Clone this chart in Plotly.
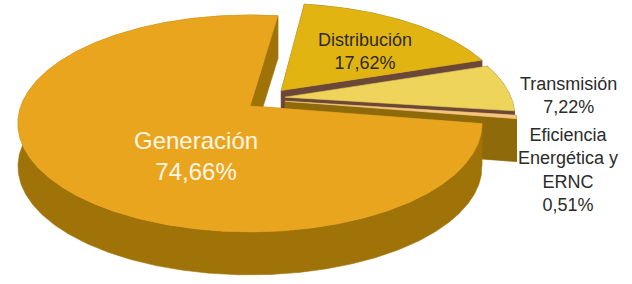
import numpy as np
import plotly.graph_objects as go

# ---------------- data ----------------
categories = ["Generación", "Distribución", "Transmisión", "Eficiencia Energética y ERNC"]
values = [74.66, 17.62, 7.22, 0.51]
label_names = ["Generación", "Distribución", "Transmisión", "Eficiencia<br>Energética y<br>ERNC"]

# ---------------- style ----------------
top_colors = ["#EAA51F", "#E2B412", "#EED45A", "#F6C57F"]
side_colors = ["#A07308", "#6A4736", "#6A4736", "#8E6A0B"]
pulls = [(0.0, 0.0), (0.14, 0.15), (0.155, 0.085), (0.155, 0.045)]   # explode offsets (disk units)
angular_order = [0, 3, 2, 1]      # counter-clockwise order of slices
draw_order = [1, 2, 3, 0]         # far to near
START = 81.9                      # start angle (deg) of first slice
CX, CY, RX, RY, K, DEPTH = 250, 106, 229, 105.6, 0.161, 43

label_pos = [(196, 156, 24, "#FFF6E6"), (365, 51, 18, "#2B2B2B"),
             (568, 95, 18, "#2B2B2B"), (568, 170, 18, "#2B2B2B")]


def proj(u, v):
    w = 1 + K * v
    return CX + RX * u / w, CY - RY * v / w


total = sum(values)
angles = {}
a = START
for i in angular_order:
    span = values[i] / total * 360.0
    angles[i] = (a, a + span)
    a += span

fig = go.Figure()


def poly(xs, ys, color):
    xs = list(xs) + [xs[0]]
    ys = list(ys) + [ys[0]]
    fig.add_trace(go.Scatter(x=xs, y=ys, mode="lines", fill="toself",
                             fillcolor=color, line=dict(color=color, width=0.6),
                             hoverinfo="skip", showlegend=False))


for i in draw_order:
    a0, a1 = angles[i]
    n = max(6, int((a1 - a0) * 2))
    th = np.radians(np.linspace(a0, a1, n))
    ou, ov = pulls[i]
    ru = ou + np.cos(th)
    rv = ov + np.sin(th)
    rx, ry = proj(ru, rv)
    cx0, cy0 = proj(ou, ov)
    side = side_colors[i]
    # outer wall
    poly(np.concatenate([rx, rx[::-1]]), np.concatenate([ry, ry[::-1] + DEPTH]), side)
    # radial faces
    for j in (0, -1):
        poly([cx0, rx[j], rx[j], cx0], [cy0, ry[j], ry[j] + DEPTH, cy0 + DEPTH], side)
    # top face
    poly(np.concatenate([[cx0], rx]), np.concatenate([[cy0], ry]), top_colors[i])

for i in range(len(categories)):
    x, y, size, col = label_pos[i]
    txt = label_names[i] + "<br>" + f"{values[i]:.2f}".replace(".", ",") + "%"
    fig.add_annotation(x=x, y=y, xref="x", yref="y", text=txt, showarrow=False,
                       font=dict(family="Liberation Sans", size=size, color=col),
                       align="center", xanchor="center", yanchor="middle")

fig.update_xaxes(range=[0, 632], visible=False, fixedrange=True)
fig.update_yaxes(range=[284, 0], visible=False, fixedrange=True)
fig.update_layout(width=632, height=284, margin=dict(l=0, r=0, t=0, b=0),
                  paper_bgcolor="white", plot_bgcolor="white", showlegend=False)

fig.write_html("out.html", config={"displayModeBar": False},
               post_script="document.body.style.margin='0';")
